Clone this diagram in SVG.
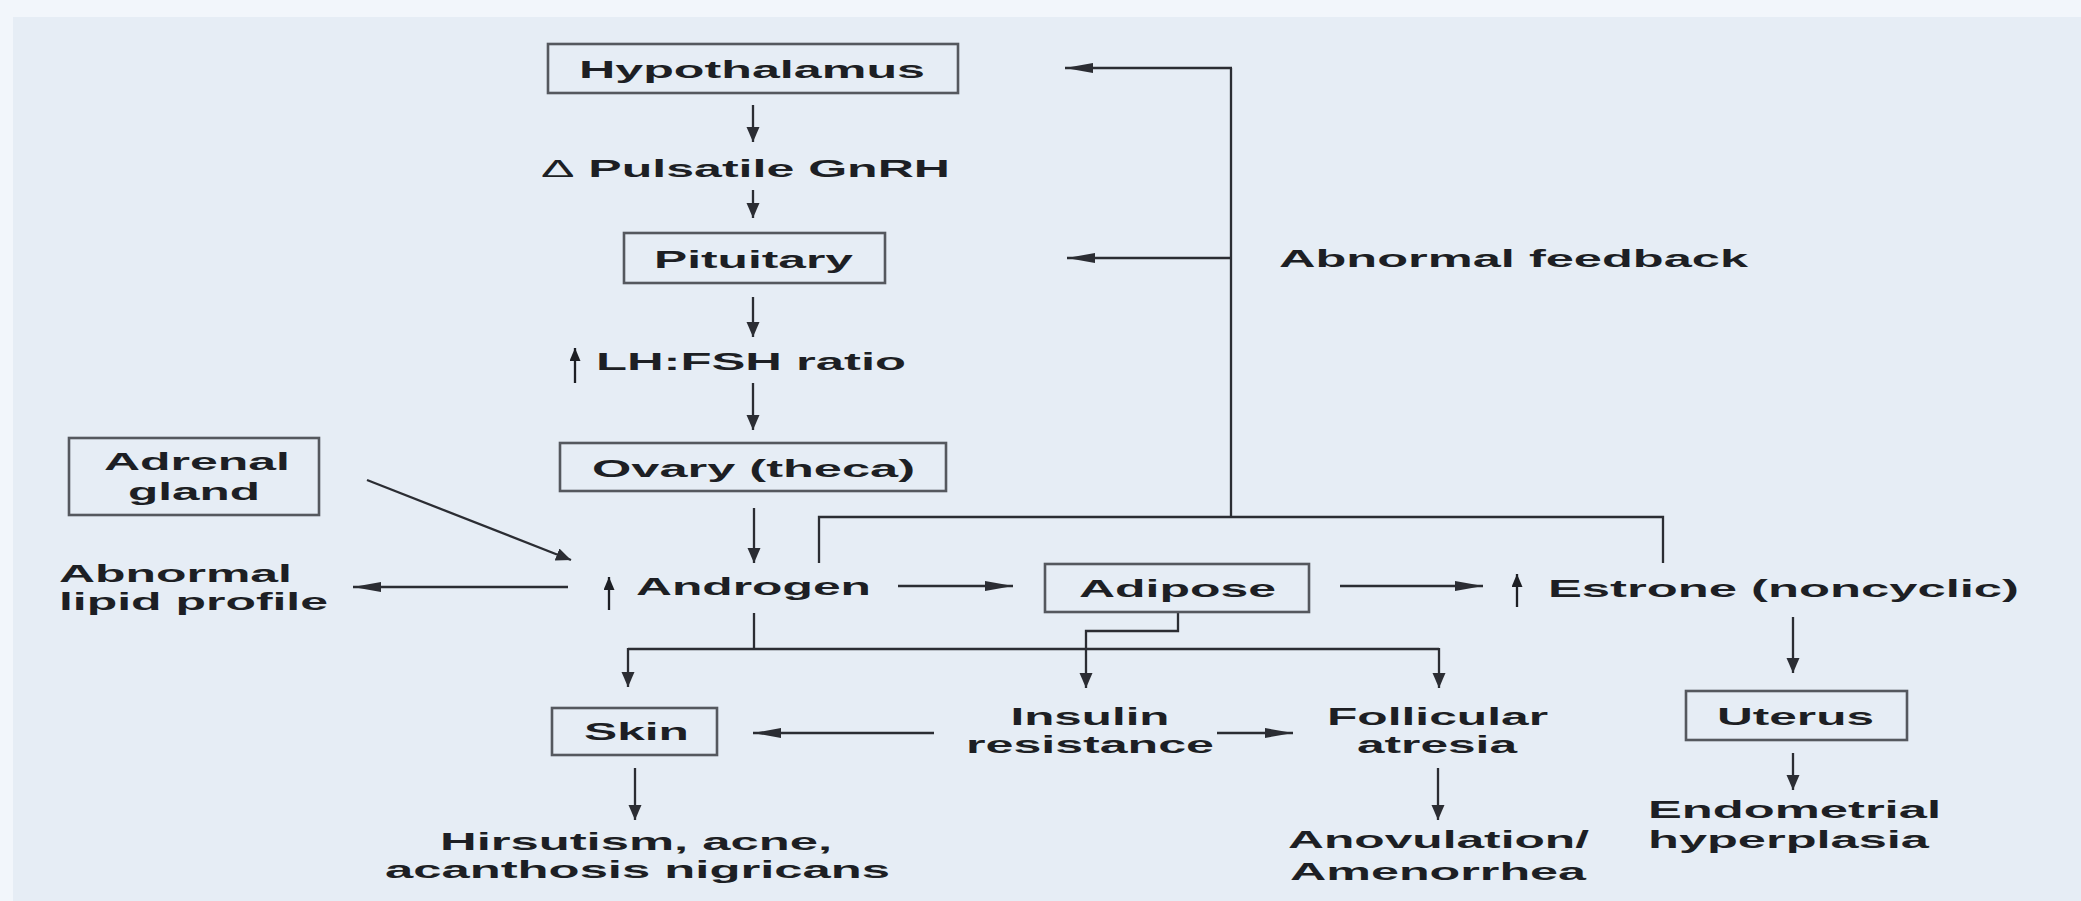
<svg xmlns="http://www.w3.org/2000/svg" width="2081" height="901" viewBox="0 0 2081 901">
<style>
.t{font-family:"Liberation Sans",Arial,Helvetica,sans-serif;font-weight:bold;font-size:24px;fill:#1d1f24}
.m{text-anchor:middle}
.box{fill:none;stroke:#55585e;stroke-width:2.6}
.ln{fill:none;stroke:#2b2d33;stroke-width:2.3}
.av{marker-end:url(#hv)}
.ah{marker-end:url(#hh)}
.up{fill:none;stroke:#1d1f24;stroke-width:2.3;marker-end:url(#hu)}
</style>
<defs>
<marker id="hv" markerUnits="userSpaceOnUse" markerWidth="16" markerHeight="14" refX="15" refY="6.5" orient="auto">
<path d="M0,0 L15,6.5 L0,13 z" fill="#2b2d33"/>
</marker>
<marker id="hh" markerUnits="userSpaceOnUse" markerWidth="30" markerHeight="12" refX="28" refY="5" orient="auto">
<path d="M0,0 L28,5 L0,10 z" fill="#2b2d33"/>
</marker>
<marker id="hu" markerUnits="userSpaceOnUse" markerWidth="14" markerHeight="12" refX="13" refY="5.5" orient="auto">
<path d="M0,0 L13,5.5 L0,11 z" fill="#1d1f24"/>
</marker>
</defs>
<rect x="0" y="0" width="2081" height="901" fill="#f2f6fb"/>
<rect x="13" y="17" width="2068" height="884" fill="#e6edf5"/>

<g id="connectors">
<line class="ln av" x1="753" y1="105" x2="753" y2="142"/>
<line class="ln av" x1="753" y1="190" x2="753" y2="218"/>
<line class="ln av" x1="753" y1="297" x2="753" y2="337"/>
<line class="ln av" x1="753" y1="383" x2="753" y2="430"/>
<line class="ln av" x1="754" y1="508" x2="754" y2="563"/>
<line class="ln av" x1="367" y1="480" x2="571" y2="560"/>
<line class="ln ah" x1="568" y1="587" x2="353" y2="587"/>
<line class="ln ah" x1="898" y1="586" x2="1013" y2="586"/>
<line class="ln ah" x1="1340" y1="586" x2="1483" y2="586"/>
<line class="ln av" x1="1793" y1="617" x2="1793" y2="673"/>
<line class="ln av" x1="1793" y1="753" x2="1793" y2="790"/>
<path class="ln" d="M819,563 V517 H1663 V563"/>
<path class="ln" d="M1231,517 V68"/>
<line class="ln ah" x1="1232" y1="68" x2="1065" y2="68"/>
<line class="ln ah" x1="1231" y1="258" x2="1067" y2="258"/>
<path class="ln" d="M754,613 V649"/>
<path class="ln" d="M628,649 H1439"/>
<line class="ln av" x1="628" y1="648" x2="628" y2="687"/>
<line class="ln av" x1="1439" y1="648" x2="1439" y2="688"/>
<path class="ln av" d="M1178,612 V631 H1086 V688"/>
<line class="ln ah" x1="934" y1="733" x2="753" y2="733"/>
<line class="ln ah" x1="1217" y1="733" x2="1293" y2="733"/>
<line class="ln av" x1="635" y1="768" x2="635" y2="820"/>
<line class="ln av" x1="1438" y1="768" x2="1438" y2="820"/>
</g>

<g id="hypothalamus">
<rect class="box" x="548" y="44" width="410" height="49"/>
<text class="t m" x="752" y="78" textLength="346" lengthAdjust="spacingAndGlyphs">Hypothalamus</text>
</g>
<g id="gnrh">
<text class="t m" x="745.5" y="177" textLength="409" lengthAdjust="spacingAndGlyphs"><tspan font-weight="normal">Δ</tspan> Pulsatile GnRH</text>
</g>
<g id="pituitary">
<rect class="box" x="624" y="233" width="261" height="50"/>
<text class="t m" x="753.5" y="268" textLength="199" lengthAdjust="spacingAndGlyphs">Pituitary</text>
</g>
<g id="lhfsh">
<line class="up" x1="575" y1="383" x2="575" y2="348"/>
<text class="t m" x="751" y="370" textLength="310" lengthAdjust="spacingAndGlyphs">LH:FSH ratio</text>
</g>
<g id="ovary">
<rect class="box" x="560" y="443" width="386" height="48"/>
<text class="t m" x="753.5" y="477" textLength="323" lengthAdjust="spacingAndGlyphs">Ovary (theca)</text>
</g>
<g id="adrenal">
<rect class="box" x="69" y="438" width="250" height="77"/>
<text class="t m" x="197" y="470" textLength="186" lengthAdjust="spacingAndGlyphs">Adrenal</text>
<text class="t m" x="194" y="500" textLength="132" lengthAdjust="spacingAndGlyphs">gland</text>
</g>
<g id="lipid">
<text class="t" x="59" y="582" textLength="233" lengthAdjust="spacingAndGlyphs">Abnormal</text>
<text class="t" x="59" y="610" textLength="269" lengthAdjust="spacingAndGlyphs">lipid profile</text>
</g>
<g id="androgen">
<line class="up" x1="609" y1="610" x2="609" y2="577"/>
<text class="t m" x="753.5" y="595" textLength="235" lengthAdjust="spacingAndGlyphs">Androgen</text>
</g>
<g id="adipose">
<rect class="box" x="1045" y="564" width="264" height="48"/>
<text class="t m" x="1177.5" y="597" textLength="197" lengthAdjust="spacingAndGlyphs">Adipose</text>
</g>
<g id="estrone">
<line class="up" x1="1517" y1="607" x2="1517" y2="574"/>
<text class="t m" x="1783.5" y="597" textLength="471" lengthAdjust="spacingAndGlyphs">Estrone (noncyclic)</text>
</g>
<g id="feedback">
<text class="t" x="1279" y="267" textLength="469" lengthAdjust="spacingAndGlyphs">Abnormal feedback</text>
</g>
<g id="skin">
<rect class="box" x="552" y="708" width="165" height="47"/>
<text class="t m" x="636.5" y="740" textLength="105" lengthAdjust="spacingAndGlyphs">Skin</text>
</g>
<g id="insulin">
<text class="t m" x="1090" y="725" textLength="159" lengthAdjust="spacingAndGlyphs">Insulin</text>
<text class="t m" x="1090" y="753" textLength="248" lengthAdjust="spacingAndGlyphs">resistance</text>
</g>
<g id="follicular">
<text class="t m" x="1437.5" y="725" textLength="221" lengthAdjust="spacingAndGlyphs">Follicular</text>
<text class="t m" x="1437" y="753" textLength="160" lengthAdjust="spacingAndGlyphs">atresia</text>
</g>
<g id="uterus">
<rect class="box" x="1686" y="691" width="221" height="49"/>
<text class="t m" x="1795.5" y="725" textLength="157" lengthAdjust="spacingAndGlyphs">Uterus</text>
</g>
<g id="hirsutism">
<text class="t m" x="636" y="850" textLength="392" lengthAdjust="spacingAndGlyphs">Hirsutism, acne,</text>
<text class="t m" x="637.5" y="878" textLength="505" lengthAdjust="spacingAndGlyphs">acanthosis nigricans</text>
</g>
<g id="anovulation">
<text class="t m" x="1438.5" y="848" textLength="301" lengthAdjust="spacingAndGlyphs">Anovulation/</text>
<text class="t m" x="1438" y="880" textLength="296" lengthAdjust="spacingAndGlyphs">Amenorrhea</text>
</g>
<g id="endometrial">
<text class="t" x="1648" y="818" textLength="293" lengthAdjust="spacingAndGlyphs">Endometrial</text>
<text class="t" x="1648" y="848" textLength="281" lengthAdjust="spacingAndGlyphs">hyperplasia</text>
</g>
</svg>
